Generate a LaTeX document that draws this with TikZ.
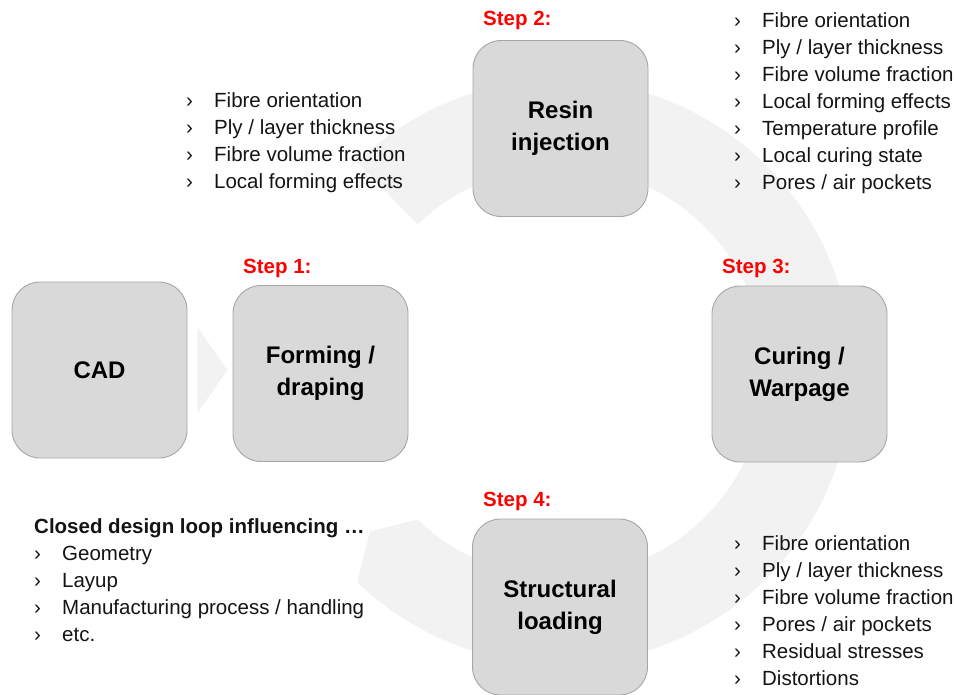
\documentclass[tikz,border=0pt]{standalone}
\usepackage{fontspec}
\setmainfont{Liberation Sans}
\usetikzlibrary{calc,positioning}
\definecolor{boxfill}{RGB}{217,217,217}
\definecolor{boxline}{RGB}{166,166,166}
\definecolor{loopfill}{RGB}{242,242,242}
\definecolor{tagcolor}{RGB}{255,0,0}
\definecolor{listcolor}{RGB}{20,20,20}
\tikzset{
  stepbox/.style={draw=boxline, fill=boxfill, line width=0.9pt, rounded corners=28pt,
    minimum width=175pt, minimum height=176pt, inner sep=0pt, align=center,
    font=\bfseries\fontsize{24}{32}\selectfont},
  steptag/.style={anchor=base west, inner sep=0pt, text=tagcolor,
    font=\bfseries\fontsize{20.5}{27}\selectfont},
  infolist/.style={anchor=north west, inner sep=0pt, align=left, text=listcolor,
    font=\fontsize{20.5}{27}\selectfont},
}
\newcommand{\itm}{\makebox[28pt][l]{›}}

\begin{document}
\begin{tikzpicture}[x=1pt, y=-1pt]
    \useasboundingbox (0,0) rectangle (955,695);
    % closed loop ring behind the steps
    \coordinate (ctr) at (560,372);
    \fill[loopfill] ($(ctr)+(-134:292)$) arc[start angle=-134, end angle=134, radius=292]
      -- ($(ctr)+(140:248)$) -- ($(ctr)+(134:205)$)
      arc[start angle=134, end angle=-134, radius=205] -- cycle;
    % process steps
    \node[stepbox] (cad) at (99.5,370) {CAD};
    \node[stepbox] (forming) at (320.5,373.5) {Forming /\\draping};
    \node[stepbox] (resin) at (560.5,128.5) {Resin\\injection};
    \node[stepbox] (curing) at (799.5,374) {Curing /\\Warpage};
    \node[stepbox] (structural) at (560,607) {Structural\\loading};
    % chevron from CAD into step 1
    \fill[loopfill] ($(cad.east)+(10,-43)$) -- ($(cad.east)+(40,0)$)
      -- ($(cad.east)+(10,43)$) -- cycle;
    % step tags
    \node[steptag] (tag1) at (243,273) {Step 1:};
    \node[steptag] (tag2) at (483,26) {Step 2:};
    \node[steptag] (tag3) at (722,273) {Step 3:};
    \node[steptag] (tag4) at (483,506) {Step 4:};
    % influence lists
    \node[infolist] (formlist) at (186,92)
      {\itm Fibre orientation\\ \itm Ply / layer thickness\\
       \itm Fibre volume fraction\\ \itm Local forming effects};
    \node[infolist] (resinlist) at (734,12)
      {\itm Fibre orientation\\ \itm Ply / layer thickness\\
       \itm Fibre volume fraction\\ \itm Local forming effects\\
       \itm Temperature profile\\ \itm Local curing state\\
       \itm Pores / air pockets};
    \node[infolist] (loadlist) at (734,535)
      {\itm Fibre orientation\\ \itm Ply / layer thickness\\
       \itm Fibre volume fraction\\ \itm Pores / air pockets\\
       \itm Residual stresses\\ \itm Distortions};
    \node[infolist] (looplist) at (34,518)
      {\textbf{Closed design loop influencing \dots}\\ \itm Geometry\\
       \itm Layup\\ \itm Manufacturing process / handling\\ \itm etc.};
\end{tikzpicture}
\end{document}
